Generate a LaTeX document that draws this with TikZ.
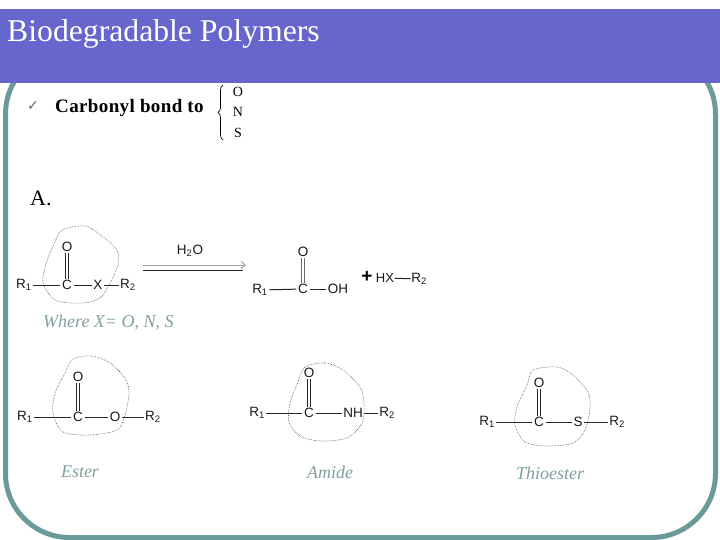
\documentclass[tikz,border=0pt]{standalone}
\usepackage{fontspec}
\setmainfont{Liberation Serif}
\newfontfamily\chemfont{Liberation Sans}
\newfontfamily\tickfont{DejaVu Sans}
\usetikzlibrary{arrows.meta}
\usetikzlibrary{decorations.pathreplacing}
\definecolor{framecol}{HTML}{6B9A9A}
\definecolor{bannercol}{HTML}{6666CC}
\definecolor{notecol}{HTML}{7F9F9F}
\tikzset{
  atom/.style={font=\chemfont\fontsize{13.5}{13.5}\selectfont, inner sep=1.5pt, text=black!90},
  bond/.style={black!85, line width=1pt},
  blob/.style={black!70, line width=.6pt, densely dotted},
  note/.style={font=\itshape\fontsize{18}{18}\selectfont, text=notecol, inner sep=0pt},
}

\begin{document}
\begin{tikzpicture}[x=1pt, y=-1pt]
\useasboundingbox (0,0) rectangle (720,540);

\draw[framecol, line width=5pt, rounded corners=64pt] (5.5,50) rectangle (715.5,537.5);
\fill[bannercol] (0,9) rectangle (720,83);
\node[anchor=west, text=white, inner sep=0pt, font=\fontsize{31.7}{31.7}\selectfont] (title) at (7,34) {Biodegradable Polymers};

\node[text=black!60, inner sep=0pt, font=\tickfont\fontsize{14}{14}\selectfont] (tick) at (33,106) {✓};
\node[anchor=west, inner sep=0pt, font=\bfseries\fontsize{19}{19}\selectfont\addfontfeatures{LetterSpace=2}] (bondto) at (55,108) {Carbonyl bond to};
\coordinate (bracelow) at (223,140);
\coordinate (braceup) at (223,85);
\draw[line width=.7pt, decorate, decoration={brace, amplitude=5pt}] (bracelow) -- (braceup);
\foreach \t/\y in {O/92, N/112, S/133} \node[inner sep=0pt, font=\fontsize{14}{14}\selectfont] (el\t) at (238,\y) {\t};
\node[anchor=west, inner sep=0pt, font=\fontsize{22}{22}\selectfont] (partA) at (30,198) {A.};

% the four R1-C(=O)-X-R2 drawings
\foreach \name/\xa/\xc/\xx/\xb/\ya/\yo/\atm in {gen/24/67/98/128/285/247/X, ester/25/78/115/153/417/377/O, amide/257/309/353/387/413/373/NH, thio/487/539/578/617/422/383/S} {
  \node[atom] (\name r1) at (\xa,\ya) {R\textsubscript{1}};
  \node[atom] (\name c) at (\xc,\ya) {C};
  \node[atom] (\name o) at (\xc,\yo) {O};
  \node[atom] (\name x) at (\xx,\ya) {\atm};
  \node[atom] (\name r2) at (\xb,\ya) {R\textsubscript{2}};
  \draw[bond] (\name r1) -- (\name c);
  \draw[bond] (\name c) -- (\name x);
  \draw[bond] (\name x) -- (\name r2);
  \draw[bond] ([xshift=-1.6pt]\name c.north) -- ([xshift=-1.6pt]\name o.south);
  \draw[bond] ([xshift=1.6pt]\name c.north) -- ([xshift=1.6pt]\name o.south);
}

\draw[blob] plot[smooth cycle] coordinates {(62,230) (85,226) (103,237) (117,250) (118,265) (110,283) (100,298) (83,303) (57,301) (45,288) (43,277) (48,258) (55,242)};
\draw[blob] plot[smooth cycle] coordinates {(73,359) (92,356) (110,363) (125,378) (129,393) (125,415) (117,430) (90,435) (63,432) (53,413) (55,393) (65,373)};
\draw[blob] plot[smooth cycle] coordinates {(305,367) (325,363) (343,370) (360,387) (364,403) (362,423) (347,438) (320,441) (300,436) (289,422) (290,403) (298,382)};
\draw[blob] plot[smooth cycle] coordinates {(533,370) (557,367) (573,375) (588,392) (590,408) (585,430) (573,443) (547,446) (525,442) (515,425) (517,407) (527,385)};

% reaction arrow
\coordinate (arrowa) at (143,265);
\coordinate (arrowb) at (246,265);
\coordinate (arrowc) at (143,270);
\coordinate (arrowd) at (243,270);
\draw[black!35, line width=1pt, -{Straight Barb[length=4pt,width=7pt]}] (arrowa) -- (arrowb);
\draw[black!85, line width=1pt] (arrowc) -- (arrowd);
\node[atom] (water) at (190,251) {H\textsubscript{2}O};

% product side
\node[atom] (acidr) at (260,290) {R\textsubscript{1}};
\node[atom] (acidc) at (303,289) {C};
\node[atom] (acido) at (303,252) {O};
\node[atom] (acidoh) at (338,289) {OH};
\draw[bond] (acidr) -- (acidc);
\draw[bond] (acidc) -- (acidoh);
\draw[bond, black!60] ([xshift=-1.6pt]acidc.north) -- ([xshift=-1.6pt]acido.south);
\draw[bond, black!60] ([xshift=1.6pt]acidc.north) -- ([xshift=1.6pt]acido.south);
\node[inner sep=0pt, font=\chemfont\bfseries\fontsize{19}{19}\selectfont] (plus) at (367,277) {+};
\node[atom, font=\chemfont\fontsize{13}{13}\selectfont, inner sep=.5pt] (hx) at (385,278) {HX};
\node[atom, inner sep=.5pt] (hxr) at (419,279) {R\textsubscript{2}};
\draw[bond] (hx) -- (hxr);

\node[note, anchor=west] (where) at (43,323) {Where X= O, N, S};
\node[note] (esterlab) at (80,472) {Ester};
\node[note] (amidelab) at (330,472) {Amide};
\node[note] (thiolab) at (550,473) {Thioester};
\end{tikzpicture}
\end{document}
